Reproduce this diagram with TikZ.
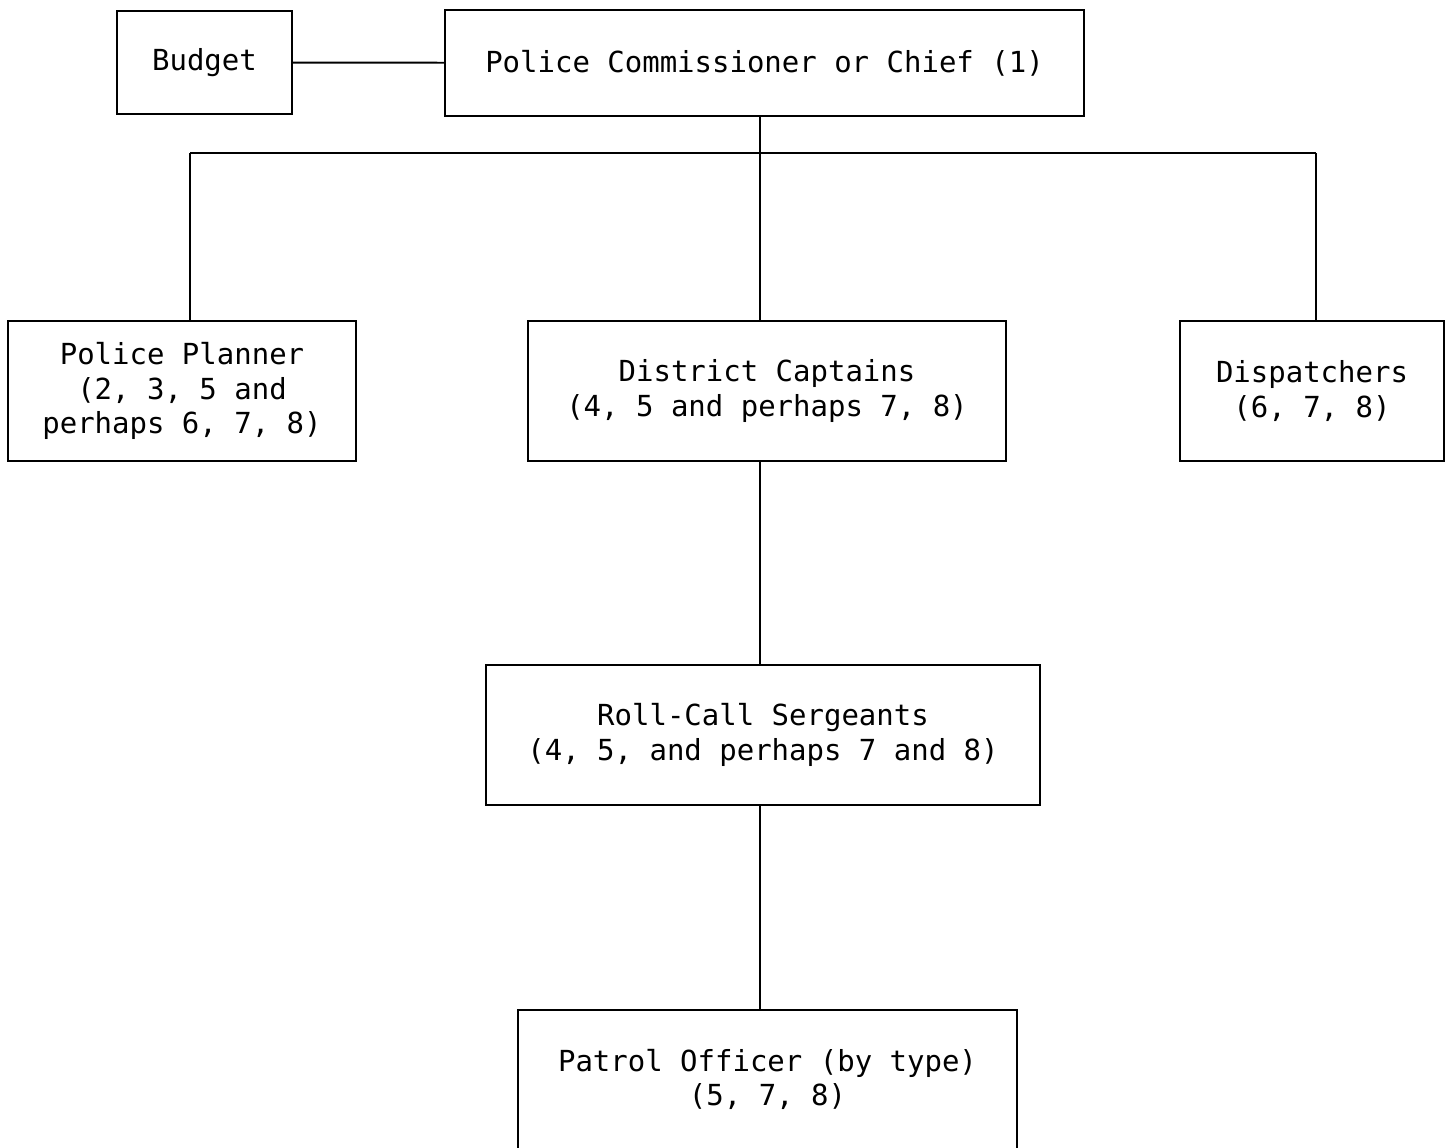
\documentclass[tikz,border=0pt]{standalone}
\usepackage{fontspec}
\setmonofont{DejaVu Sans Mono}
\usetikzlibrary{positioning}

\tikzset{
  orgbox/.style={draw, line width=1.1pt, align=center, inner sep=0pt,
    font=\ttfamily\fontsize{16.5}{19.6}\selectfont},
  link/.style={line width=1.1pt}
}

\begin{document}
\begin{tikzpicture}[x=0.02cm, y=-0.02cm]
            \clip (0,0) rectangle (1446,1147);
            \fill[white] (0,0) rectangle (1446,1147);
            % top row
            \node[orgbox, minimum width=3.5cm, minimum height=2.06cm] (budget) at (204.5,62.5) {Budget};
            \node[orgbox, minimum width=12.78cm, minimum height=2.12cm] (chief) at (764.5,63) {Police Commissioner or Chief (1)};
            % second row
            \node[orgbox, minimum width=6.96cm, minimum height=2.8cm] (planner) at (182,391) {Police Planner\\(2, 3, 5 and\\perhaps 6, 7, 8)};
            \node[orgbox, minimum width=9.56cm, minimum height=2.8cm] (captains) at (767,391) {District Captains\\(4, 5 and perhaps 7, 8)};
            \node[orgbox, minimum width=5.28cm, minimum height=2.8cm] (disp) at (1312,391) {Dispatchers\\(6, 7, 8)};
            % lower levels
            \node[orgbox, minimum width=11.08cm, minimum height=2.8cm] (sergeants) at (763,735) {Roll-Call Sergeants\\(4, 5, and perhaps 7 and 8)};
            \node[orgbox, minimum width=9.98cm, minimum height=3cm, text depth=0.3cm] (patrol) at (767.5,1085) {Patrol Officer (by type)\\(5, 7, 8)};
            % bus coordinates
            \coordinate (bus) at (760,153);
            \coordinate (lbus) at (190,153);
            \coordinate (rbus) at (1316,153);
            % connectors
            \draw[link] (budget) -- (chief);
            \draw[link] (chief.south -| bus) -- (bus);
            \draw[link] (lbus) -- (rbus);
            \draw[link] (lbus) -- (lbus |- planner.north);
            \draw[link] (bus) -- (bus |- captains.north);
            \draw[link] (rbus) -- (rbus |- disp.north);
            \draw[link] (captains.south -| bus) -- (sergeants.north -| bus);
            \draw[link] (sergeants.south -| bus) -- (patrol.north -| bus);
        \end{tikzpicture}
\end{document}
